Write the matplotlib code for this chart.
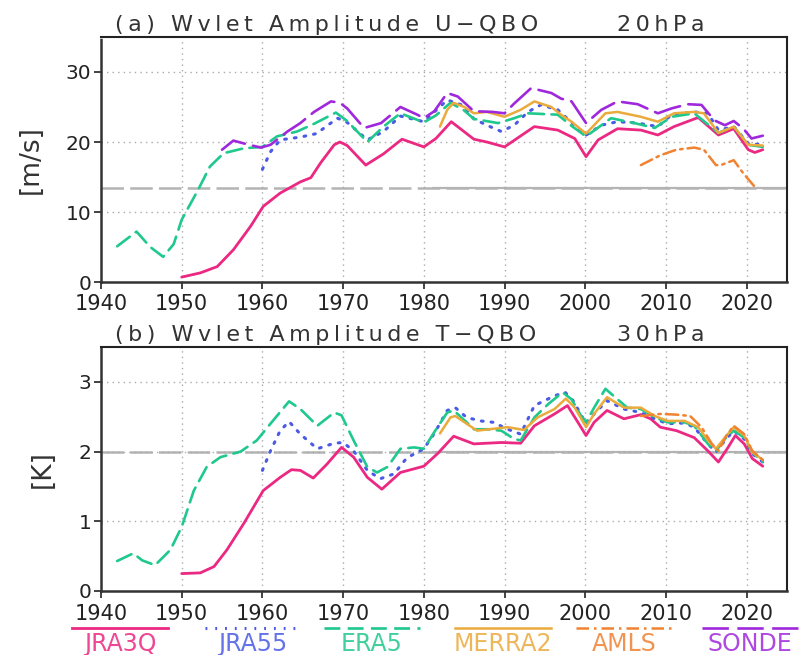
import numpy as np
import matplotlib
matplotlib.use('Agg')
import matplotlib.pyplot as plt
from matplotlib.lines import Line2D

# ---------------- data: (a) U-QBO 20hPa wavelet amplitude [m/s] ----------------
jra3q_u_yr = [1950, 1952.3, 1954.4, 1956.4, 1958.5, 1960.1, 1962.2, 1964.7, 1966, 1967.2, 1968.9, 1969.6,
              1970.5, 1972.8, 1975, 1977.3, 1980, 1981.5, 1983.4, 1986.2, 1987.8, 1990, 1993.7, 1996.6,
              1998.7, 2000.1, 2001.6, 2004, 2006.9, 2009, 2011, 2014, 2016.5, 2018.4, 2020.2, 2021, 2022]
jra3q_u = [0.7, 1.3, 2.2, 4.6, 7.9, 10.8, 12.7, 14.3, 14.9, 17.0, 19.6, 20.0,
           19.5, 16.7, 18.3, 20.4, 19.3, 20.5, 22.9, 20.4, 20.0, 19.3, 22.2, 21.7,
           20.5, 17.9, 20.3, 21.9, 21.7, 21.0, 22.2, 23.5, 21.0, 21.9, 18.9, 18.5, 18.9]

jra55_u_yr = [1960, 1961, 1962.2, 1964.7, 1966.7, 1969.3, 1970.5, 1973, 1975, 1977.1, 1980, 1982.9, 1984.7,
              1986.2, 1987.8, 1989.6, 1991.2, 1992.9, 1994.5, 1996.6, 1998.3, 2000, 2002, 2004, 2006.5,
              2009, 2010.7, 2013.5, 2015.2, 2016.5, 2018.4, 2020.2, 2022]
jra55_u = [16.1, 18.6, 20.3, 20.7, 21.2, 23.4, 22.8, 20.3, 21.5, 23.7, 22.9, 26.0, 25.3,
           23.3, 22.4, 21.5, 22.4, 24.3, 25.3, 24.6, 22.8, 20.9, 22.4, 22.9, 22.7,
           22.2, 23.9, 24.3, 24.1, 21.7, 22.2, 19.8, 19.6]

era5_u_yr = [1942, 1944.4, 1946.1, 1947.7, 1949, 1950, 1952, 1953.5, 1955.2, 1957.7, 1960, 1961.8, 1964.3,
             1966.4, 1969.1, 1970.5, 1973, 1975, 1977.1, 1980, 1981.5, 1983.3, 1985, 1986.2, 1989.2,
             1991.2, 1992.9, 1996.6, 1998.3, 2000.1, 2003.2, 2006.1, 2008.6, 2010.7, 2013.5, 2016.5,
             2018.4, 2020.2, 2022]
era5_u = [5.1, 7.2, 5.0, 3.6, 5.4, 8.9, 13.1, 16.5, 18.4, 19.1, 19.3, 20.8, 21.5,
          22.6, 24.2, 23.0, 20.0, 22.2, 24.1, 22.8, 23.8, 25.6, 24.5, 23.3, 22.7,
          23.4, 24.1, 23.9, 22.3, 20.8, 23.4, 22.7, 22.0, 23.6, 24.1, 21.3,
          22.2, 19.6, 19.3]

merra2_u_yr = [1982, 1982.9, 1983.7, 1985, 1986.2, 1987.8, 1990, 1992, 1993.7, 1995.8, 1997, 1998.3,
               2000.1, 2002.5, 2004, 2006.9, 2009, 2011, 2013.5, 2014.7, 2016.5, 2018.4, 2020.2, 2022]
merra2_u = [22.2, 24.6, 25.6, 25.0, 24.1, 24.3, 23.6, 24.6, 25.8, 25.0, 23.9, 22.9,
            21.2, 24.1, 24.3, 23.6, 22.9, 24.1, 24.3, 24.1, 21.3, 22.2, 19.6, 19.5]

amls_u_yr = [2006.9, 2009.3, 2011.3, 2013.5, 2014.7, 2016.2, 2016.8, 2018.4, 2019.6, 2021]
amls_u = [16.7, 18.1, 18.9, 19.2, 18.9, 16.7, 16.7, 17.4, 15.5, 13.6]

sonde_u_yr = [1955, 1956.4, 1958, 1959.8, 1961, 1963.1, 1964.7, 1966.4, 1968.5, 1969.6, 1970.5, 1972.6,
              1974.7, 1977.1, 1979.2, 1980, 1981.3, 1982.9, 1984.2, 1986.2, 1988.5, 1990, 1991.2, 1993.3,
              1995.8, 1997, 1998.3, 2000.1, 2002, 2004, 2006.5, 2009, 2010.7, 2012.7, 2014.4, 2016,
              2017.3, 2018.4, 2019.6, 2020.6, 2022]
sonde_u = [18.9, 20.2, 19.7, 19.2, 19.6, 21.5, 22.7, 24.3, 25.8, 25.6, 24.8, 22.0,
           22.7, 25.0, 23.9, 23.4, 24.4, 27.0, 26.5, 24.4, 24.3, 24.1, 25.5, 27.7,
           27.0, 26.2, 25.8, 22.7, 24.6, 25.8, 25.4, 24.1, 24.8, 25.4, 25.3, 23.1,
           22.4, 23.0, 21.9, 20.5, 20.9]

# ---------------- data: (b) T-QBO 30hPa wavelet amplitude [K] ----------------
jra3q_t_yr = [1950, 1952.3, 1954, 1955.6, 1957.7, 1960.1, 1962.2, 1963.6, 1964.7, 1966.3, 1968, 1969.8,
              1971.3, 1973, 1974.8, 1977.1, 1980, 1981.7, 1983.7, 1986.2, 1987.8, 1989.6, 1992, 1993.7,
              1996.2, 1997.8, 1999.2, 2000.1, 2001.1, 2002.7, 2004.8, 2006.9, 2008.1, 2009.3, 2011.3,
              2013.5, 2015.2, 2016.5, 2017.7, 2018.6, 2019.7, 2020.7, 2022]
jra3q_t = [0.25, 0.26, 0.35, 0.59, 0.97, 1.44, 1.63, 1.74, 1.73, 1.62, 1.82, 2.06,
           1.92, 1.63, 1.46, 1.70, 1.79, 1.97, 2.22, 2.11, 2.12, 2.13, 2.12, 2.37,
           2.54, 2.66, 2.40, 2.23, 2.42, 2.59, 2.47, 2.53, 2.47, 2.35, 2.30,
           2.20, 2.01, 1.85, 2.06, 2.23, 2.11, 1.90, 1.79]

jra55_t_yr = [1960, 1961, 1962.2, 1963.3, 1964.7, 1966.8, 1968.9, 1970, 1971.3, 1973, 1974.6, 1976.3,
              1977.9, 1980, 1981.3, 1982.9, 1983.9, 1985.3, 1987, 1988.6, 1990.4, 1992, 1993.7, 1996.2,
              1997.5, 1998.5, 2000.1, 2001.1, 2002.7, 2004.8, 2006.9, 2008.6, 2010.2, 2012.3, 2013.5,
              2015.2, 2016.2, 2017.3, 2018.4, 2019.7, 2020.7, 2022]
jra55_t = [1.73, 2.01, 2.30, 2.43, 2.25, 2.04, 2.12, 2.13, 2.01, 1.73, 1.61, 1.68,
           1.91, 2.04, 2.26, 2.59, 2.63, 2.49, 2.44, 2.42, 2.32, 2.25, 2.66, 2.80,
           2.85, 2.73, 2.40, 2.54, 2.73, 2.61, 2.56, 2.47, 2.40, 2.41, 2.35,
           2.11, 1.99, 2.16, 2.30, 2.18, 1.97, 1.85]

era5_t_yr = [1942, 1944, 1945.1, 1946.7, 1948.6, 1950, 1951.5, 1953.1, 1954.8, 1957.3, 1959.3, 1961,
             1963.3, 1964.7, 1966.8, 1968.9, 1969.8, 1971.3, 1973, 1974.2, 1975.5, 1977.1, 1978.8, 1980,
             1981.3, 1982.9, 1983.7, 1985.3, 1986.2, 1987.8, 1989.6, 1991.2, 1992, 1993.7, 1995.4,
             1997.2, 1998.3, 1999.5, 2000.1, 2001.1, 2002.5, 2003.5, 2005.2, 2006.9, 2008.6, 2010.2,
             2012.3, 2013.5, 2015.2, 2016.2, 2017.3, 2018.4, 2019.7, 2020.7, 2022]
era5_t = [0.43, 0.54, 0.44, 0.37, 0.59, 0.92, 1.44, 1.78, 1.92, 2.00, 2.16, 2.40,
          2.72, 2.61, 2.37, 2.56, 2.52, 2.16, 1.78, 1.70, 1.78, 2.04, 2.06, 2.04,
          2.28, 2.56, 2.59, 2.42, 2.32, 2.32, 2.30, 2.18, 2.16, 2.49, 2.68,
          2.85, 2.75, 2.51, 2.42, 2.63, 2.90, 2.80, 2.63, 2.61, 2.49, 2.42,
          2.42, 2.37, 2.11, 2.01, 2.18, 2.30, 2.20, 1.99, 1.85]

merra2_t_yr = [1982, 1983.3, 1983.9, 1985.3, 1986.6, 1988.1, 1990.4, 1992.4, 1994.1, 1996.2, 1997.6,
               1998.7, 2000.1, 2001.1, 2002.7, 2004.8, 2006.9, 2008.6, 2010.2, 2012.3, 2014, 2015.2,
               2016.2, 2017.3, 2018.4, 2019.7, 2020.7, 2022]
merra2_t = [2.26, 2.49, 2.51, 2.40, 2.30, 2.32, 2.35, 2.31, 2.49, 2.61, 2.76,
            2.63, 2.35, 2.54, 2.78, 2.63, 2.63, 2.51, 2.44, 2.44, 2.35, 2.16,
            2.04, 2.20, 2.35, 2.23, 1.99, 1.88]

amls_t_yr = [2006.9, 2009.3, 2011.3, 2013, 2014.4, 2015.7, 2016.5, 2017.5, 2018.4, 2019.7, 2020.7, 2022]
amls_t = [2.51, 2.54, 2.53, 2.51, 2.35, 2.11, 2.01, 2.23, 2.37, 2.25, 2.01, 1.88]

ref_u = 13.4
ref_t = 2.0

names = ['JRA3Q', 'JRA55', 'ERA5', 'MERRA2', 'AMLS', 'SONDE']
colors = ['#eb2882', '#4a5ae6', '#1fc88c', '#ebaa3c', '#f08232', '#a028dc']
styles = ['-', (0, (0.6, 2.6)), (0, (6, 2.8)), '-', (0, (5, 2, 1, 2)), (0, (10, 3.2))]
widths = [2.0, 2.2, 1.9, 1.8, 1.8, 1.9]


def spaced(s):
    return '\u2009'.join(s)


def draw_panel(ax, series, ylim, yticks, ylabel, title, level, ref):
    ax.set_xlim(1940, 2025)
    ax.set_ylim(*ylim)
    ax.set_xticks(np.arange(1940, 2021, 10))
    ax.set_yticks(yticks)
    ax.grid(True, color='#aaaaaa', linestyle=(0, (1, 3)), linewidth=1.0)
    ax.axhline(ref, color='#b4b4b4', linestyle=(0, (9, 2.5)), linewidth=1.8, zorder=1)
    ax.hlines(ref, 1981, 2025, color='#b4b4b4', linewidth=1.6, zorder=1)
    for i, s in enumerate(series):
        if s is None:
            continue
        yr, val = s
        ax.plot(yr, val, color=colors[i], linestyle=styles[i], linewidth=widths[i],
                solid_capstyle='round', dash_capstyle='round', zorder=3)
    ax.tick_params(axis='x', direction='out', length=5, width=1.2, labelsize=15, pad=4,
                   colors='#222222')
    ax.tick_params(axis='y', direction='out', length=5, width=1.2, labelsize=14.5, pad=2,
                   colors='#222222')
    for side in ['left', 'bottom']:
        ax.spines[side].set_linestyle((0, (2.5, 1)))
        ax.spines[side].set_linewidth(1.8)
        ax.spines[side].set_color('#333333')
    for side in ['top', 'right']:
        ax.spines[side].set_linewidth(1.5)
        ax.spines[side].set_color('#222222')
    ax.set_ylabel(ylabel, fontsize=19, labelpad=16, color='#333333')
    ax.text(0.02, 1.01, title, transform=ax.transAxes, fontsize=16, va='bottom', ha='left',
            color='#333333')
    ax.text(0.752, 1.01, level, transform=ax.transAxes, fontsize=16, va='bottom', ha='left',
            color='#333333')


fig = plt.figure(figsize=(8.01, 6.55), dpi=100)
ax1 = fig.add_axes([101 / 801, 1 - 282 / 655, 686 / 801, 245 / 655])
ax2 = fig.add_axes([101 / 801, 1 - 591 / 655, 686 / 801, 244 / 655])

draw_panel(ax1,
           [(jra3q_u_yr, jra3q_u), (jra55_u_yr, jra55_u), (era5_u_yr, era5_u),
            (merra2_u_yr, merra2_u), (amls_u_yr, amls_u), (sonde_u_yr, sonde_u)],
           (0, 35), [0, 10, 20, 30], '[m/s]',
           spaced('(a) Wvlet Amplitude U\u2212QBO'), spaced('20hPa'), ref_u)
draw_panel(ax2,
           [(jra3q_t_yr, jra3q_t), (jra55_t_yr, jra55_t), (era5_t_yr, era5_t),
            (merra2_t_yr, merra2_t), (amls_t_yr, amls_t), None],
           (0, 3.5), [0, 1, 2, 3], '[K]',
           spaced('(b) Wvlet Amplitude T\u2212QBO'), spaced('30hPa'), ref_t)

# legend row under the figure
centers = [120, 253, 372, 503, 624, 750]
for i, name in enumerate(names):
    cx = centers[i] / 801
    fig.add_artist(Line2D([cx - 48 / 801, cx + 48 / 801], [1 - 628 / 655] * 2,
                          transform=fig.transFigure, color=colors[i], linestyle=styles[i],
                          linewidth=widths[i]))
    fig.text(cx, 1 - 651 / 655, name, color=colors[i], fontsize=17, ha='center', va='baseline',
             alpha=0.85)

fig.savefig('out.png', dpi=100)
